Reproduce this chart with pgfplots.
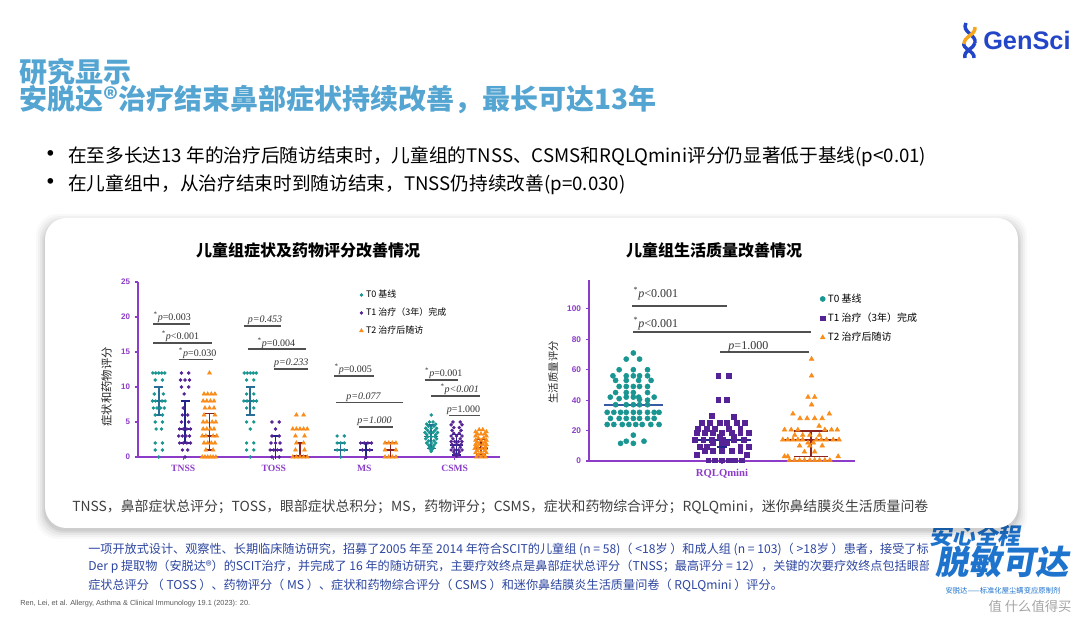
\documentclass[border=0pt]{standalone}
\usepackage{fontspec}
\usepackage{pgfplots}
\pgfplotsset{compat=1.18}
\setmainfont{Noto Sans CJK SC}
\newfontfamily\tnr{Liberation Serif}
\newfontfamily\arial{Liberation Sans}
\newfontfamily\slcjk{Noto Sans CJK SC}[FakeSlant=0.18]
\definecolor{cteal}{RGB}{25,150,145}
\definecolor{cpurp}{RGB}{85,35,150}
\definecolor{corange}{RGB}{250,140,25}
\definecolor{tzerr}{RGB}{40,110,150}
\definecolor{tzmean}{RGB}{55,90,165}
\definecolor{toerr}{RGB}{35,35,140}
\definecolor{tterr}{RGB}{140,35,35}
\definecolor{axpurple}{RGB}{140,60,200}
\definecolor{siggray}{RGB}{80,80,80}
\definecolor{titleblue}{RGB}{85,165,210}
\definecolor{footblue}{RGB}{45,70,160}
\definecolor{ovblue}{RGB}{30,115,205}
\definecolor{logoblue}{RGB}{35,70,200}
\definecolor{logoorange}{RGB}{245,165,30}
\begin{document}
\begin{tikzpicture}
\begin{scope}[x=0.75pt,y=0.75pt]
\useasboundingbox (0,0) rectangle (1080,624);
\fill[white] (0,0) rectangle (1080,624);
% titles
\node[anchor=west, inner sep=0pt, text=titleblue, font=\bfseries\fontsize{21}{24}\selectfont] at (19,552) {研究显示};
\node[anchor=west, inner sep=0pt, text=titleblue, font=\bfseries\fontsize{21}{24}\selectfont] at (19,524) {安脱达®治疗结束鼻部症状持续改善，最长可达13年};
% logo
\draw[logoblue, line width=2.6] (966,601) .. controls (961,592) and (977,589) .. (975,581);
\draw[logoblue, line width=2.6] (975,581) .. controls (974,575) and (963,574) .. (965,566);
\draw[logoblue, line width=2.6] (964,581) .. controls (962,575) and (975,573) .. (974,566);
\draw[logoorange, line width=2.6] (975,597) .. controls (976,589) and (964,588) .. (964,580);
\node[anchor=west, inner sep=0pt, text=logoblue, font=\arial\bfseries\fontsize{19}{22}\selectfont] at (983,584) {GenSci};
% bullets
\node[font=\fontsize{20}{22}\selectfont] at (51,467) {•};
\node[anchor=west, inner sep=0pt, font=\fontsize{14}{16}\selectfont] at (68,467) {在至多长达13 年的治疗后随访结束时，儿童组的TNSS、CSMS和RQLQmini评分仍显著低于基线(p<0.01)};
\node[font=\fontsize{20}{22}\selectfont] at (51,439) {•};
\node[anchor=west, inner sep=0pt, font=\fontsize{14}{16}\selectfont] at (68,439) {在儿童组中，从治疗结束时到随访结束，TNSS仍持续改善(p=0.030)};
% overlay (behind box)
\node[text=ovblue, font=\slcjk\bfseries\fontsize{17}{20}\selectfont] at (975,88) {安心全程};
% box with shadow
\foreach \i/\o in {9/0.025,7/0.03,5/0.04,3/0.05,1.5/0.06}
  \fill[black, opacity=\o, rounded corners=16] (45-\i,96-\i-2) rectangle (1018+\i,406+\i-5);
\fill[white, rounded corners=16] (45,96) rectangle (1018,406);
% chart titles
\node[font=\bfseries\fontsize{12}{14}\selectfont] at (308,374) {儿童组症状及药物评分改善情况};
\node[font=\bfseries\fontsize{12}{14}\selectfont] at (714,374) {儿童组生活质量改善情况};
% abbreviations
\node[anchor=west, inner sep=0pt, text=black!75, font=\fontsize{10.4}{12}\selectfont] at (72,117) {TNSS，鼻部症状总评分；TOSS，眼部症状总积分；MS，药物评分；CSMS，症状和药物综合评分；RQLQmini，迷你鼻结膜炎生活质量问卷};
% footnote
\begin{scope}
\clip (0,0) rectangle (928,624);
\node[anchor=west, inner sep=0pt, text=footblue, font=\fontsize{9.1}{11}\selectfont] at (88,75) {一项开放式设计、观察性、长期临床随访研究，招募了2005 年至 2014 年符合SCIT的儿童组 (n = 58)（ <18岁 ）和成人组 (n = 103)（ >18岁 ）患者，接受了标准化};
\node[anchor=west, inner sep=0pt, text=footblue, font=\fontsize{9.1}{11}\selectfont] at (88,57) {Der p 提取物（安脱达®）的SCIT治疗，并完成了 16 年的随访研究，主要疗效终点是鼻部症状总评分（TNSS；最高评分 = 12），关键的次要疗效终点包括眼部};
\end{scope}
\node[anchor=west, inner sep=0pt, text=footblue, font=\fontsize{9.1}{11}\selectfont] at (88,39) {症状总评分 （ TOSS ）、药物评分（ MS ）、症状和药物综合评分（ CSMS ）和迷你鼻结膜炎生活质量问卷（ RQLQmini ）评分。};
\node[anchor=west, inner sep=0pt, text=black!65, font=\arial\fontsize{5.5}{7}\selectfont] at (20,20) {Ren, Lei, et al. Allergy, Asthma \& Clinical Immunology 19.1 (2023): 20.};
% overlay front
\node[text=ovblue, font=\slcjk\bfseries\fontsize{25}{28}\selectfont] at (1002,62) {脱敏可达};
\node[text=ovblue, font=\fontsize{5.5}{6}\selectfont] at (1003,33) {安脱达——标准化屋尘螨变应原制剂};
\node[text=gray, opacity=0.7, font=\fontsize{10}{12}\selectfont] at (1030,18) {值 什么值得买};
\end{scope}

% ---------------- left chart ----------------
\begin{axis}[
 at={(103.5pt,125.25pt)}, anchor=south west,
 scale only axis, width=271.5pt, height=131.25pt,
 xmin=0.5, xmax=4.5, ymin=0, ymax=25,
 axis x line*=bottom, axis y line*=left,
 axis line style={draw=axpurple, line width=1.1pt},
 xtick={1,2,3,4}, xticklabels={TNSS,TOSS,MS,CSMS},
 ytick={0,5,...,25},
 tick align=outside, major tick length=2.5pt,
 tick style={draw=axpurple, line width=0.8pt},
 x tick label style={font=\tnr\bfseries\fontsize{7.2}{8}\selectfont, text=axpurple},
 y tick label style={font=\arial\bfseries\fontsize{6}{7}\selectfont, text=axpurple},
 /pgf/number format/assume math mode=true,
 ylabel={症状和药物评分},
 ylabel style={font=\fontsize{8.5}{10}\selectfont, text=black!85, at={(ticklabel cs:0.4)}, anchor=south},
 clip=false,
 legend style={at={(0.6,0.985)}, anchor=north west, draw=none, fill=none, font=\fontsize{6.75}{8}\selectfont, row sep=2.2pt},
 legend cell align=left,
 legend image code/.code={\draw[mark repeat=2,mark phase=2,#1] plot coordinates {(0cm,0cm) (0.15cm,0cm) (0.3cm,0cm)};},
]
\addplot[only marks, mark=*, mark size=1.1pt, color=cteal, mark options={draw=none}] coordinates {
(0.664,12)(0.697,12)(0.73,12)(0.763,12)(0.796,12)(0.69,11)(0.77,11)(0.68,9)(0.78,9)
(0.66,8)(0.695,8)(0.765,8)(0.80,8)(0.67,7)(0.71,7)(0.75,7)(0.79,7)(0.69,6)(0.77,6)
(0.69,5)(0.77,5)(0.70,4)(0.76,4)(0.69,2)(0.77,2)(0.69,1)(0.77,1)(0.73,0)
(1.674,12)(1.707,12)(1.74,12)(1.773,12)(1.806,12)(1.70,11)(1.78,11)(1.70,9)(1.78,9)
(1.67,8)(1.705,8)(1.775,8)(1.81,8)(1.70,7)(1.78,7)(1.70,5)(1.78,5)(1.74,4)
(1.70,2)(1.78,2)(1.70,1)(1.78,1)(1.74,0)
(2.70,3)(2.78,3)(2.70,2)(2.74,2)(2.78,2)(2.70,1)(2.78,1)(2.74,0)
(3.74,6.0)(3.72,5.0)(3.76,5.0)(3.69,4.7)(3.79,4.7)(3.71,4.4)(3.77,4.4)(3.68,4.1)(3.74,4.1)(3.80,4.1)
(3.70,3.8)(3.78,3.8)(3.67,3.5)(3.72,3.5)(3.76,3.5)(3.81,3.5)(3.69,3.2)(3.79,3.2)(3.70,2.9)(3.74,2.9)
(3.78,2.9)(3.68,2.6)(3.80,2.6)(3.71,2.3)(3.77,2.3)(3.69,2.0)(3.74,2.0)(3.79,2.0)(3.71,1.7)(3.77,1.7)
(3.72,1.4)(3.76,1.4)(3.73,1.1)(3.75,1.1)(3.74,0.8)};
\addlegendentry{T0 基线}
\addplot[only marks, mark=*, mark size=1.1pt, color=cpurp, mark options={draw=none}] coordinates {
(0.98,12)(1.06,12)(0.97,11)(1.02,11)(1.07,11)(0.98,10)(1.06,10)(1.01,9)(1.0,7)(0.99,6)(1.05,6)
(0.98,5)(1.06,5)(0.96,4)(1.0,4)(1.04,4)(1.08,4)(0.95,3)(0.99,3)(1.03,3)(1.07,3)
(0.96,2)(1.0,2)(1.04,2)(1.08,2)(0.99,1)(1.05,1)(1.02,0)
(1.98,5)(2.06,5)(2.02,4)(1.98,3)(2.06,3)(1.97,2)(2.02,2)(2.07,2)(1.96,1)(2.0,1)(2.04,1)(2.08,1)(1.98,0)(2.06,0)
(2.96,2)(3.0,2)(3.04,2)(3.08,2)(2.98,1)(3.06,1)(3.02,0)
(3.98,5.0)(4.06,5.0)(3.96,4.6)(4.08,4.6)(3.99,4.2)(4.05,4.2)(3.97,3.8)(4.07,3.8)(3.99,3.4)(4.05,3.4)
(3.96,3.0)(4.02,3.0)(4.08,3.0)(3.98,2.6)(4.06,2.6)(3.96,2.2)(4.0,2.2)(4.04,2.2)(4.08,2.2)
(3.97,1.8)(4.02,1.8)(4.07,1.8)(3.98,1.4)(4.06,1.4)(3.96,1.0)(4.0,1.0)(4.04,1.0)(4.08,1.0)
(3.99,0.7)(4.05,0.7)(4.0,0.4)(4.04,0.4)(4.02,0.1)};
\addlegendentry{T1 治疗（3年）完成}
\addplot[only marks, mark=triangle*, mark size=1.7pt, color=corange, mark options={draw=none}] coordinates {
(1.29,12)(1.23,9)(1.27,9)(1.31,9)(1.35,9)(1.22,8)(1.26,8)(1.30,8)(1.34,8)(1.24,7)(1.29,7)(1.34,7)
(1.23,6)(1.35,6)(1.22,5)(1.26,5)(1.32,5)(1.36,5)(1.22,4)(1.26,4)(1.30,4)(1.34,4)
(1.21,3)(1.25,3)(1.33,3)(1.37,3)(1.23,2)(1.27,2)(1.31,2)(1.35,2)(1.25,1)(1.33,1)
(1.21,0)(1.24,0)(1.27,0)(1.30,0)(1.33,0)(1.36,0)
(2.25,6)(2.33,6)(2.21,4)(2.25,4)(2.29,4)(2.33,4)(2.37,4)(2.24,3)(2.34,3)(2.25,2)(2.33,2)
(2.24,1)(2.34,1)(2.21,0)(2.25,0)(2.29,0)(2.33,0)(2.37,0)
(3.23,2)(3.27,2)(3.31,2)(3.35,2)(3.23,1)(3.35,1)(3.23,0)(3.27,0)(3.31,0)(3.35,0)
(4.27,3.9)(4.31,3.9)(4.23,3.6)(4.35,3.6)(4.25,3.3)(4.29,3.3)(4.33,3.3)(4.23,3.0)(4.35,3.0)
(4.26,2.7)(4.32,2.7)(4.23,2.4)(4.29,2.4)(4.35,2.4)(4.25,2.1)(4.33,2.1)(4.23,1.8)(4.27,1.8)
(4.31,1.8)(4.35,1.8)(4.24,1.5)(4.34,1.5)(4.22,1.2)(4.26,1.2)(4.30,1.2)(4.34,1.2)(4.25,0.9)
(4.33,0.9)(4.23,0.6)(4.29,0.6)(4.35,0.6)(4.26,0.3)(4.32,0.3)(4.24,0.0)(4.29,0.0)(4.34,0.0)};
\addlegendentry{T2 治疗后随访}
% error bars
\addplot[forget plot, tzerr, line width=1.1pt, unbounded coords=jump] coordinates {
(0.655,8)(0.805,8)(0.73,nan)(0.68,10)(0.78,10)(0.73,nan)(0.68,6)(0.78,6)(0.73,nan)(0.73,6)(0.73,10)(0.73,nan)
(1.665,8)(1.815,8)(1.74,nan)(1.69,10)(1.79,10)(1.74,nan)(1.69,6)(1.79,6)(1.74,nan)(1.74,6)(1.74,10)(1.74,nan)
(2.665,1)(2.815,1)(2.74,nan)(2.69,2)(2.79,2)(2.74,nan)(2.74,0)(2.74,2)(2.74,nan)
(3.665,2.9)(3.815,2.9)(3.74,nan)(3.69,4.6)(3.79,4.6)(3.74,nan)(3.69,1.2)(3.79,1.2)(3.74,nan)(3.74,1.2)(3.74,4.6)};
\addplot[forget plot, toerr, line width=1.1pt, unbounded coords=jump] coordinates {
(0.945,4)(1.095,4)(1.02,nan)(0.97,8)(1.07,8)(1.02,nan)(0.97,2)(1.07,2)(1.02,nan)(1.02,2)(1.02,8)(1.02,nan)
(1.945,1)(2.095,1)(2.02,nan)(1.97,3)(2.07,3)(2.02,nan)(2.02,-0.3)(2.02,3)(2.02,nan)
(2.945,1)(3.095,1)(3.02,nan)(2.97,2)(3.07,2)(3.02,nan)(3.02,-0.3)(3.02,2)(3.02,nan)
(3.945,1.7)(4.095,1.7)(4.02,nan)(3.97,3.2)(4.07,3.2)(4.02,nan)(3.97,0.3)(4.07,0.3)(4.02,nan)(4.02,0.3)(4.02,3.2)};
\addplot[forget plot, tterr, line width=1.1pt, unbounded coords=jump] coordinates {
(1.215,3)(1.365,3)(1.29,nan)(1.24,6.2)(1.34,6.2)(1.29,nan)(1.24,1)(1.34,1)(1.29,nan)(1.29,1)(1.29,6.2)(1.29,nan)
(2.24,2)(2.34,2)(2.29,nan)(2.29,0)(2.29,2)(2.29,nan)(2.215,0.15)(2.365,0.15)(2.29,nan)
(3.215,1)(3.365,1)(3.29,nan)(3.24,2)(3.34,2)(3.29,nan)(3.29,0)(3.29,2)(3.29,nan)
(4.215,1.3)(4.365,1.3)(4.29,nan)(4.24,2.5)(4.34,2.5)(4.29,nan)(4.24,0.4)(4.34,0.4)(4.29,nan)(4.29,0.4)(4.29,2.5)};
% significance lines
\addplot[forget plot, siggray, line width=1.1pt, unbounded coords=jump] coordinates {
(0.67,19)(1.08,19)(1,nan)(0.67,16.3)(1.32,16.3)(1,nan)(0.95,13.9)(1.33,13.9)(1,nan)
(1.67,18.7)(2.08,18.7)(2,nan)(1.71,15.4)(2.36,15.4)(2,nan)(2.0,12.6)(2.38,12.6)(2,nan)
(2.67,11.6)(3.11,11.6)(3,nan)(2.69,7.8)(3.43,7.8)(3,nan)(2.94,4.3)(3.32,4.3)(3,nan)
(3.67,11.0)(4.04,11.0)(4,nan)(3.74,8.7)(4.28,8.7)(4,nan)(3.94,5.9)(4.28,5.9)};
\begin{scope}[every node/.style={anchor=base west, inner sep=0pt, text=black!80, font=\tnr\fontsize{7.5}{8}\selectfont}]
\node at (axis cs:0.67,19.45) {\textsuperscript{*}\textit{p}=0.003};
\node at (axis cs:0.76,16.75) {\textsuperscript{*}\textit{p}<0.001};
\node at (axis cs:0.95,14.35) {\textsuperscript{*}\textit{p}=0.030};
\node at (axis cs:1.71,19.15) {\textit{p=0.453}};
\node at (axis cs:1.82,15.85) {\textsuperscript{*}\textit{p}=0.004};
\node at (axis cs:2.0,13.05) {\textit{p=0.233}};
\node at (axis cs:2.67,12.05) {\textsuperscript{*}\textit{p}=0.005};
\node at (axis cs:2.80,8.25) {\textit{p=0.077}};
\node at (axis cs:2.92,4.75) {\textit{p=1.000}};
\node at (axis cs:3.67,11.45) {\textsuperscript{*}\textit{p}=0.001};
\node at (axis cs:3.84,9.15) {\textsuperscript{*}\textit{p<0.001}};
\node at (axis cs:3.91,6.35) {\textit{p}=1.000};
\end{scope}
\end{axis}

% ---------------- right chart ----------------
\begin{axis}[
 at={(441.75pt,122.25pt)}, anchor=south west,
 scale only axis, width=199.5pt, height=135.75pt,
 xmin=0.5, xmax=3.5, ymin=0, ymax=119,
 axis x line*=bottom, axis y line*=left,
 axis line style={draw=axpurple, line width=1.1pt},
 xtick={2}, xticklabels={RQLQmini},
 ytick={0,20,...,100},
 tick align=outside, major tick length=2.5pt,
 tick style={draw=axpurple, line width=0.8pt},
 x tick label style={font=\tnr\bfseries\fontsize{8}{9}\selectfont, text=axpurple},
 y tick label style={font=\arial\bfseries\fontsize{6.2}{7}\selectfont, text=axpurple},
 /pgf/number format/assume math mode=true,
 ylabel={生活质量评分},
 ylabel style={font=\fontsize{7.8}{9}\selectfont, text=black!85, at={(ticklabel cs:0.49)}, anchor=south},
 clip=false,
 legend style={at={(0.853,0.955)}, anchor=north west, draw=none, fill=none, font=\fontsize{7.5}{9}\selectfont, row sep=2.6pt},
 legend cell align=left,
 legend image code/.code={\draw[mark repeat=2,mark phase=2,#1] plot coordinates {(0cm,0cm) (0.12cm,0cm) (0.24cm,0cm)};},
]
\addplot[only marks, mark=*, mark size=1.9pt, color=cteal, mark options={draw=none}] coordinates {
(1.0,71)(0.92,67)(1.07,67)(0.84,60)(1.0,60)(1.16,60)(0.77,56)(0.92,56)(1.0,56)(1.07,56)(1.16,56)
(0.80,53)(0.92,53)(1.06,53)(1.20,53)(0.84,49)(0.92,49)(1.0,49)(1.07,49)(1.16,49)
(0.80,45)(0.92,45)(1.0,45)(1.16,45)(0.74,42)(0.92,42)(1.0,42)(1.06,42)(1.235,42)(0.84,41)(1.07,40.5)(1.16,40)
(0.80,37)(0.92,37)(1.0,37)(1.07,37)(1.16,37)
(0.705,32)(0.78,32)(0.856,32)(0.92,32)(1.0,32)(1.07,32)(1.16,32)(1.235,32)(1.29,32)
(0.742,28)(0.84,28)(0.92,28)(1.0,28)(1.07,28)(1.16,28)(1.235,28)
(0.705,24)(0.78,24)(0.875,24)(0.95,24)(1.027,24)(1.10,24)(1.197,24)(1.29,24)
(1.0,17)(0.92,13)(1.12,13)(0.856,11.6)(1.0,11.6)};
\addlegendentry{T0 基线}
\addplot[only marks, mark=square*, mark size=1.8pt, color=cpurp, mark options={draw=none}] coordinates {
(1.958,56)(2.072,56)(1.958,40)(2.053,40)(1.883,30)(2.129,29)
(1.769,25)(1.864,25)(1.977,25)(2.053,25)(2.167,25)(2.261,25)
(1.731,21)(1.826,21)(1.92,21)(2.072,21)(2.205,21)
(1.712,18.5)(1.807,18.5)(1.90,18.5)(1.996,18.5)(2.11,18.5)(2.205,18.5)(2.30,18.5)
(1.977,16)(2.129,16)
(1.693,14)(1.788,14)(1.883,14)(2.015,14)(2.129,14)(2.242,14)
(1.90,12)(1.996,12)(2.053,12)
(1.75,9.5)(1.826,9.5)(2.205,9.5)(2.30,9.5)
(1.807,6.6)(1.90,6.6)(1.996,6.6)(2.11,6.6)(2.205,6.6)
(1.712,4)(2.28,4)
(1.845,0.5)(1.92,0.5)(1.996,0.5)(2.072,0.5)(2.148,0.5)(2.223,0.5)};
\addlegendentry{T1 治疗（3年）完成}
\addplot[only marks, mark=triangle*, mark size=2.0pt, color=corange, mark options={draw=none}] coordinates {
(3.01,67)(3.01,56)(2.97,42)(3.045,42)(3.01,37)(2.80,31)(3.21,31)(2.88,28)(2.96,28)(3.045,28)(3.13,28)
(3.095,23)(2.705,20.5)(2.78,20.5)(2.856,20.5)(3.16,20.5)(3.235,20.5)(3.30,20.5)
(2.82,17)(2.91,17)(2.99,17)(3.10,17)
(2.686,14)(2.742,14)(2.80,14)(2.856,14)(2.91,14)(3.064,14)(3.12,14)(3.178,14)(3.254,14)(3.32,14)
(2.97,12)(3.03,12)(2.875,10)(2.99,10)(3.13,10)(2.93,6)(3.045,6)(2.705,3)(2.742,3)(3.31,3)
(2.76,0.5)(2.818,0.5)(2.875,0.5)(2.93,0.5)(2.99,0.5)(3.045,0.5)(3.10,0.5)(3.16,0.5)(3.216,0.5)};
\addlegendentry{T2 治疗后随访}
\addplot[forget plot, tzmean, line width=1.4pt] coordinates {(0.667,37)(1.333,37)};
\addplot[forget plot, toerr, line width=1.4pt, unbounded coords=jump] coordinates {
(1.67,14)(2.33,14)(2,nan)(2.0,9)(2.0,14)(2,nan)(1.94,9)(2.06,9)};
\addplot[forget plot, tterr, line width=1.4pt, unbounded coords=jump] coordinates {
(2.69,14)(3.31,14)(3,nan)(2.81,20)(3.19,20)(3,nan)(2.81,3)(3.19,3)(3,nan)(3,3)(3,20)};
\addplot[forget plot, siggray, line width=1.2pt, unbounded coords=jump] coordinates {
(0.99,102)(2.06,102)(1.5,nan)(1.0,84.7)(3.0,84.7)(2,nan)(1.98,71.7)(2.98,71.7)};
\begin{scope}[every node/.style={anchor=base west, inner sep=0pt, text=black!80, font=\tnr\fontsize{9}{10}\selectfont}]
\node at (axis cs:1.0,107.5) {\textsuperscript{*}\textit{p}<0.001};
\node at (axis cs:1.0,87.7) {\textsuperscript{*}\textit{p}<0.001};
\node at (axis cs:2.07,73.2) {\textit{p}=1.000};
\end{scope}
\end{axis}
\end{tikzpicture}
\end{document}
